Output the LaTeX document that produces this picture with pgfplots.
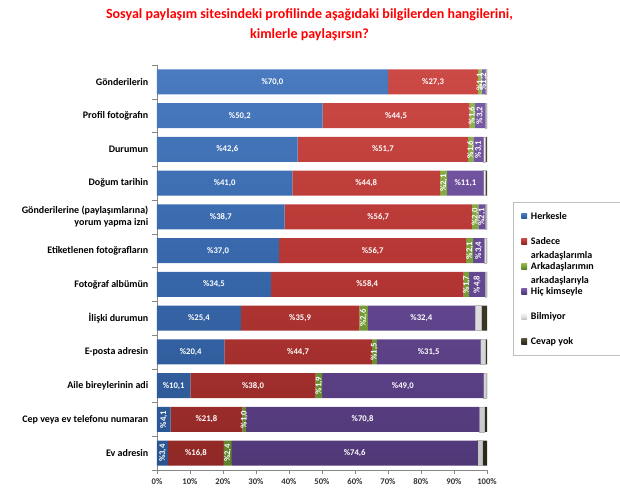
\documentclass[border=0pt]{standalone}
\usepackage{fontspec}
\setmainfont{Carlito}
\usepackage{pgfplots}
\usepackage{pgfplotstable}
\pgfplotsset{compat=1.18}

\definecolor{herL}{HTML}{4A7BC0}\definecolor{herB}{HTML}{3767AA}\definecolor{herD}{HTML}{2A5490}
\definecolor{sadL}{HTML}{CC4A46}\definecolor{sadB}{HTML}{B53633}\definecolor{sadD}{HTML}{8E2826}
\definecolor{arkL}{HTML}{94BC50}\definecolor{arkB}{HTML}{7AA03A}\definecolor{arkD}{HTML}{5E8229}
\definecolor{hicL}{HTML}{7C5EAA}\definecolor{hicB}{HTML}{654893}\definecolor{hicD}{HTML}{503877}
\definecolor{bilL}{HTML}{F6F6F6}\definecolor{bilB}{HTML}{E4E4E4}\definecolor{bilD}{HTML}{C4C4C4}
\definecolor{cevL}{HTML}{55513A}\definecolor{cevB}{HTML}{3D3A26}\definecolor{cevD}{HTML}{2A281B}
\definecolor{axgray}{HTML}{868686}

% rows from bottom (0) to top (11)
\pgfplotstableread{
y  her  sad  ark  hic  bil  cev
11 70.0 27.3 1.1  1.2  0.2  0.2
10 50.2 44.5 1.6  3.2  0.3  0.2
9  42.6 51.7 1.6  3.1  0.6  0.4
8  41.0 44.8 2.1  11.1 0.6  0.4
7  38.7 56.7 2.0  2.1  0.3  0.2
6  37.0 56.7 2.1  3.4  0.5  0.3
5  34.5 58.4 1.7  4.8  0.4  0.2
4  25.4 35.9 2.6  32.4 2.1  1.6
3  20.4 44.7 1.5  31.5 1.4  0.5
2  10.1 38.0 1.9  49.0 0.8  0.2
1  4.1  21.8 1.0  70.8 1.6  0.7
0  3.4  16.8 2.4  74.6 1.5  1.3
}\datatable

\newcommand{\lgd}[1]{\smash{\parbox[t]{67pt}{\raggedright #1}}}

\pgfplotsset{
  lbl/.style={
    point meta=\thisrow{#1},
    nodes near coords={\%\pgfmathprintnumber[fixed,fixed zerofill,precision=1,use comma]{\pgfplotspointmeta}},
    nodes near coords style={font=\fontsize{6.5}{7}\selectfont\bfseries, text=white,
      rotate={\pgfplotspointmetatransformed<60 ? 90 : 0}},
  },
}

\begin{document}
\begin{tikzpicture}
\path[use as bounding box] (-117.75pt,-21pt) rectangle (347.25pt,352.5pt);
\begin{axis}[
  at={(0pt,0pt)}, anchor=south west,
  scale only axis, width=247.5pt, height=303.75pt,
  xbar stacked, bar width=18.75pt,
  xmin=0, xmax=100, ymin=-0.5, ymax=11.5,
  point meta min=0, point meta max=100,
  /pgf/number format/assume math mode=true,
  axis lines*=left,
  axis line style={draw=axgray},
  tick align=outside,
  xtick={0,10,...,100},
  xticklabel={\pgfmathprintnumber[fixed,precision=0]{\tick}\%},
  xticklabel style={font=\fontsize{6.5}{8}\selectfont\bfseries, text=black!80},
  x tick style={draw=axgray},
  major tick length=3pt,
  ytick={0,...,11},
  yticklabels={Ev adresin, Cep veya ev telefonu numaran, Aile bireylerinin adi,
    E-posta adresin, İlişki durumun, Fotoğraf albümün, Etiketlenen fotoğrafların,
    {Gönderilerine (paylaşımlarına)\\yorum yapma izni}, Doğum tarihin, Durumun,
    Profil fotoğrafın, Gönderilerin},
  yticklabel style={font=\fontsize{7.5}{9}\selectfont\bfseries, align=right, text=black},
  major y tick style={draw=none},
  minor ytick={-0.5,0.5,...,11.5},
  minor y tick style={draw=axgray},
  minor tick length=4pt,
  title={Sosyal paylaşım sitesindeki profilinde aşağıdaki bilgilerden hangilerini,\\kimlerle paylaşırsın?},
  title style={at={(0.462,1.132)}, anchor=north, align=center,
    font=\fontsize{10.5}{15}\selectfont\bfseries, text=red},
  legend style={at={(1.079,0.662)}, anchor=north west, draw=gray!50,
    font=\fontsize{7.5}{10.5}\selectfont\bfseries, inner xsep=6pt, inner ysep=1pt,
    row sep=0pt,
    nodes={text height=11.9pt, text depth=6.9pt, inner ysep=0pt, inner xsep=2.8pt}},
  legend cell align=left,
  legend image code/.code={\path[#1, draw=none] (0pt,-2.2pt) rectangle (4.4pt,2.2pt);},
]
\addplot[top color=herL, bottom color=herD, middle color=herB, draw=none, lbl=her]
  table[x=her, y=y] {\datatable};
\addplot[top color=sadL, bottom color=sadD, middle color=sadB, draw=none, lbl=sad]
  table[x=sad, y=y] {\datatable};
\addplot[top color=arkL, bottom color=arkD, middle color=arkB, draw=none, lbl=ark]
  table[x=ark, y=y] {\datatable};
\addplot[top color=hicL, bottom color=hicD, middle color=hicB, draw=none, lbl=hic]
  table[x=hic, y=y] {\datatable};
\addplot[top color=bilL, bottom color=bilD, middle color=bilB, draw=axgray!60]
  table[x=bil, y=y] {\datatable};
\addplot[top color=cevL, bottom color=cevD, middle color=cevB, draw=none]
  table[x=cev, y=y] {\datatable};
\legend{\lgd{Herkesle}, \lgd{Sadece\\arkadaşlarımla}, \lgd{Arkadaşlarımın\\arkadaşlarıyla},
  \lgd{Hiç kimseyle}, \lgd{Bilmiyor}, \lgd{Cevap yok}}
\end{axis}
\end{tikzpicture}
\end{document}
